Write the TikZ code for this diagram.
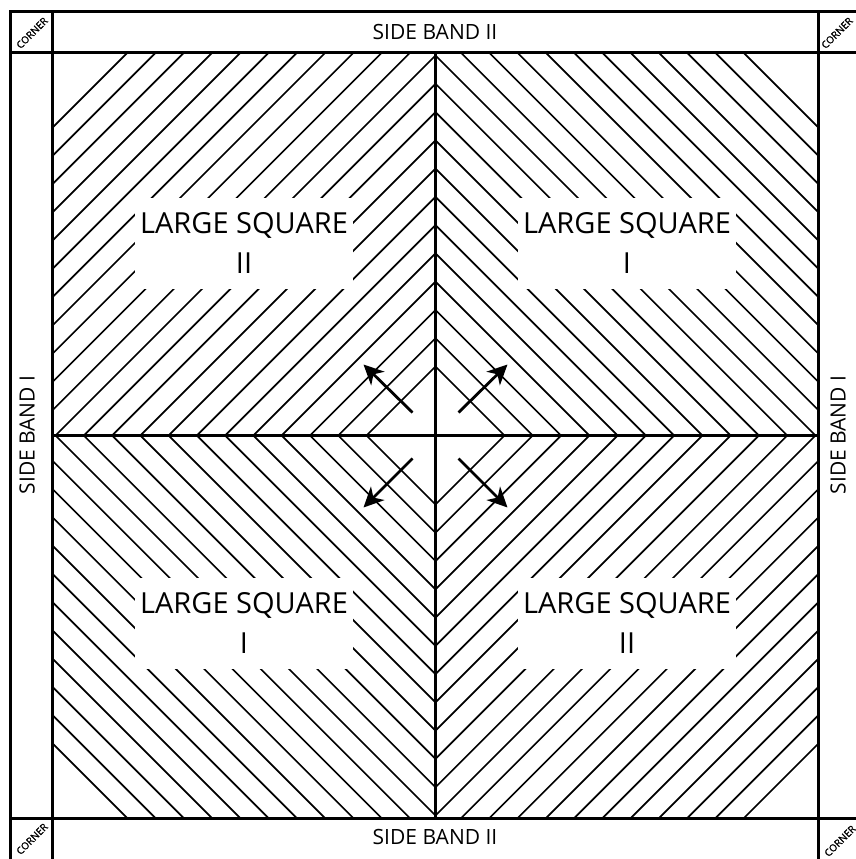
\documentclass[tikz,border=0pt]{standalone}
\usepackage{fontspec}
\setmainfont{Open Sans}
\newfontfamily\cornerfont[FakeBold=1.2]{Open Sans}
\usetikzlibrary{arrows.meta}
\begin{document}
\begin{tikzpicture}[x=1pt,y=-1pt,
  frameline/.style={line width=3pt},
  hatch/.style={line width=1.7pt},
  labelbox/.style={fill=white, minimum width=218pt, minimum height=91pt, inner sep=0pt, align=center, font=\fontsize{29}{40}\selectfont},
  bandtext/.style={font=\fontsize{21}{24}\selectfont, inner sep=0pt},
  cornertext/.style={font=\cornerfont\fontsize{10}{11}\selectfont, rotate=45, inner sep=0pt},
  arrowline/.style={line width=2.8pt, -{Stealth[length=20pt,width=19pt,inset=6pt]}}
]
\useasboundingbox (0,0) rectangle (856,859);
\clip (0,0) rectangle (856,859);
\fill[white] (0,0) rectangle (856,859);
% hatching
\def\cx{435.5}
\begin{scope}
  \clip (53,53) rectangle (435.5,435.5);
  \foreach \k in {0,...,22}{\pgfmathsetmacro\d{69+28.27*\k}
    \draw[hatch] (\cx-\d,\cx) -- (\cx,\cx-\d);}
\end{scope}
\begin{scope}
  \clip (435.5,53) rectangle (818,435.5);
  \foreach \k in {0,...,22}{\pgfmathsetmacro\d{69+28.27*\k}
    \draw[hatch] (\cx+\d,\cx) -- (\cx,\cx-\d);}
\end{scope}
\begin{scope}
  \clip (53,435.5) rectangle (435.5,818);
  \foreach \k in {0,...,22}{\pgfmathsetmacro\d{69+28.27*\k}
    \draw[hatch] (\cx-\d,\cx) -- (\cx,\cx+\d);}
\end{scope}
\begin{scope}
  \clip (435.5,435.5) rectangle (818,818);
  \foreach \k in {0,...,22}{\pgfmathsetmacro\d{69+28.27*\k}
    \draw[hatch] (\cx+\d,\cx) -- (\cx,\cx+\d);}
\end{scope}
% frame
\draw[frameline] (10,12) rectangle (860,862);
\draw[frameline] (52.5,12) -- (52.5,862);
\draw[frameline] (818,12) -- (818,862);
\draw[frameline] (10,53) -- (860,53);
\draw[frameline] (10,818) -- (860,818);
\draw[frameline] (435.5,53) -- (435.5,818);
\draw[frameline] (52.5,435.5) -- (818,435.5);
% labels
\node[labelbox] (sq2tl) at (244,243) {LARGE SQUARE\\II};
\node[labelbox] (sq1tr) at (627,243) {LARGE SQUARE\\I};
\node[labelbox] (sq1bl) at (244,623) {LARGE SQUARE\\I};
\node[labelbox] (sq2br) at (627,623) {LARGE SQUARE\\II};
\node[bandtext] (bandtop) at (435,32) {SIDE BAND II};
\node[bandtext] (bandbot) at (435,837) {SIDE BAND II};
\node[bandtext, rotate=90] (bandleft) at (27,435) {SIDE BAND I};
\node[bandtext, rotate=90] (bandright) at (838,435) {SIDE BAND I};
\node[cornertext] (ctl) at (32,33) {CORNER};
\node[cornertext] (ctr) at (837,33) {CORNER};
\node[cornertext] (cbl) at (32,839) {CORNER};
\node[cornertext] (cbr) at (840,841) {CORNER};
% arrows
\coordinate (a1s) at (412.5,412.5); \coordinate (a1e) at (363.5,364.5);
\coordinate (a2s) at (458.5,412.5); \coordinate (a2e) at (507.5,364.5);
\coordinate (a3s) at (412.5,458.5); \coordinate (a3e) at (363.5,507.5);
\coordinate (a4s) at (458.5,458.5); \coordinate (a4e) at (507.5,507.5);
\draw[arrowline] (a1s) -- (a1e);
\draw[arrowline] (a2s) -- (a2e);
\draw[arrowline] (a3s) -- (a3e);
\draw[arrowline] (a4s) -- (a4e);
\end{tikzpicture}
\end{document}
